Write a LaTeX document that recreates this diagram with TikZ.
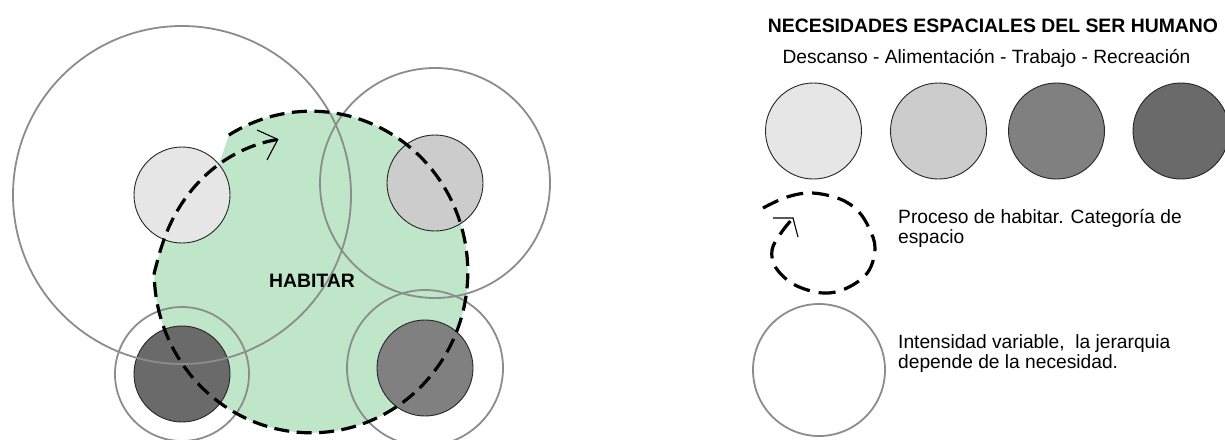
\documentclass[tikz,border=0pt]{standalone}
\usepackage{fontspec}
\setmainfont{Liberation Sans}
\begin{document}
\begin{tikzpicture}[x=1pt,y=-1pt,
  declare function={
    sa(\t)=121.6-377.2*\t;
    sf(\t)=1-0.15*pow(max(0.001,(\t-0.7996)/0.2004),0.7);
  },
  need/.style={circle,draw=black!85,line width=0.9pt,inner sep=0pt,minimum size=96pt},
  ring/.style={draw=black!45,line width=1.8pt},
  habpath/.style={draw=black,line width=3.2pt,dash pattern=on 15pt off 7.5pt},
  legpath/.style={draw=black,line width=3.2pt,dash pattern=on 17pt off 9pt},
  barb/.style={draw=black,line width=1.1pt},
  label/.style={inner sep=0pt,font=\fontsize{19.2}{19.7}\selectfont},
  boldlabel/.style={inner sep=0pt,font=\bfseries\fontsize{19.4}{19.7}\selectfont},
]
\definecolor{habgreen}{HTML}{BFE6C8}
\definecolor{descanso}{HTML}{E6E6E6}
\definecolor{alimento}{HTML}{CCCCCC}
\definecolor{trabajo}{HTML}{808080}
\definecolor{recreo}{HTML}{6A6A6A}
\useasboundingbox (0,0) rectangle (1225,439);

% green area enclosed by the spiral of "habitar"
\fill[habgreen] plot[samples=160,domain=0:0.9295,variable=\t]
  ({311+157*sf(\t)*cos(sa(\t))},{272-161*sf(\t)*sin(sa(\t))}) -- cycle;

% the four needs placed around the spiral
\node[need,fill=descanso] (n1) at (182,195) {};
\node[need,fill=alimento] (n2) at (435,183) {};
\node[need,fill=recreo]   (n4) at (182,374) {};
\node[need,fill=trabajo]  (n3) at (425,368) {};

% variable intensity of each need
\draw[ring] (n1.center) circle[radius=169];
\draw[ring] (n2.center) circle[radius=115];
\draw[ring] (n4.center) circle[radius=67];
\draw[ring] (n3.center) circle[radius=78];

% dashed spiral with open arrow head
\draw[habpath] plot[samples=220,domain=0:1,variable=\t]
  ({311+157*sf(\t)*cos(sa(\t))},{272-161*sf(\t)*sin(sa(\t))});
\coordinate (tipA) at (277.8,139.4);
\coordinate (barbA1) at (257,130);
\coordinate (barbA2) at (267,160);
\draw[barb] (barbA1) -- (tipA) -- (barbA2);

\node[boldlabel,anchor=base] (hab) at (312,287) {HABITAR};

% legend
\node[boldlabel,anchor=base] (title) at (993,32)
  {NECESIDADES ESPACIALES DEL SER HUMANO};
\node[label,anchor=base] (sub) at (986.5,63)
  {Descanso - Alimentación - Trabajo - Recreación};

\node[need,fill=descanso] (l1) at (813.5,131) {};
\node[need,fill=alimento] (l2) at (938.5,131) {};
\node[need,fill=trabajo]  (l3) at (1056.5,131) {};
\node[need,fill=recreo]   (l4) at (1181,131) {};

\draw[legpath] plot[smooth,tension=0.6] coordinates {(763,208) (787,197) (812,193) (840,199)
  (858,211) (869,228) (875,248) (868,272) (847,288) (823,293) (795,285) (776,268)
  (772,250) (781,233) (793,218)};
\coordinate (tipB) at (793,218);
\coordinate (barbB1) at (773,218);
\coordinate (barbB2) at (798,237);
\draw[barb] (barbB1) -- (tipB) -- (barbB2);
\node[label,anchor=base west,align=left] (t1) at (898,243.3)
  {Proceso de habitar. Categoría de\\espacio};

\draw[ring] (819,370) circle[radius=66];
\coordinate (lring) at (819,370);
\node[label,anchor=base west,align=left] (t2) at (898,368.3)
  {Intensidad variable,\ \ la jerarquia\\depende de la necesidad.};
\end{tikzpicture}
\end{document}
